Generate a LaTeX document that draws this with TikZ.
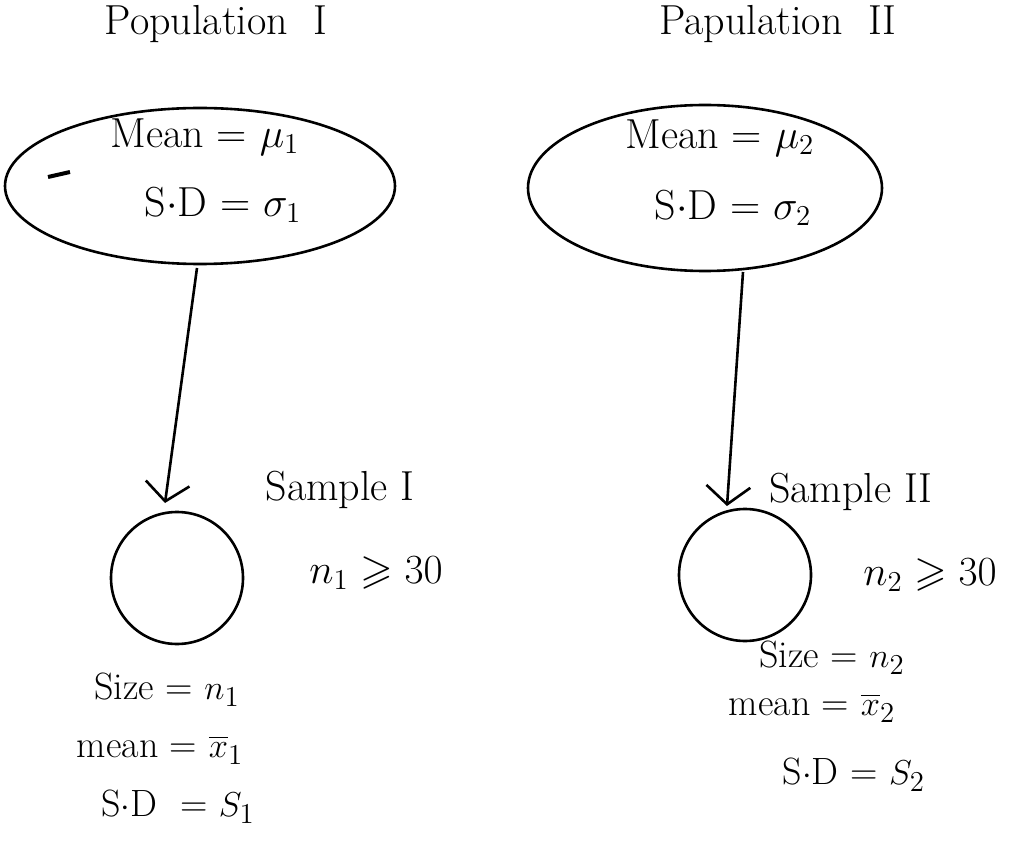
\documentclass[tikz,border=0pt]{standalone}
\usepackage{amssymb}
\usetikzlibrary{shapes.geometric,arrows.meta,calc}
\begin{document}
\begin{tikzpicture}[x=0.5pt,y=-0.5pt,
  pen/.style={line width=1.3pt,black},
  pop/.style={pen,draw,ellipse,inner sep=0pt},
  samp/.style={pen,draw,circle,inner sep=0pt},
  lbl/.style={font=\fontsize{21}{25}\selectfont,inner sep=0pt},
  small/.style={font=\fontsize{19}{22}\selectfont,inner sep=0pt},
  conn/.style={pen,-{Straight Barb[length=9pt,width=22pt,line width=1.3pt]}}]
\useasboundingbox (0,0) rectangle (1032,844);
% titles
\node[lbl] (t1) at (216,24) {Population\ \ I};
\node[lbl] (t2) at (778,24) {Papulation\ \ II};
% populations
\node[pop,minimum width=195pt,minimum height=78pt] (p1) at (200,186) {};
\node[pop,minimum width=177pt,minimum height=83pt] (p2) at (705,188) {};
\node[lbl] (m1) at (205,137) {Mean = $\mu_1$};
\node[lbl] (s1) at (223,205) {S$\cdot$D = $\sigma_1$};
\node[lbl] (m2) at (720,138) {Mean = $\mu_2$};
\node[lbl] (s2) at (733,208) {S$\cdot$D = $\sigma_2$};
\draw[pen,line width=2pt] (48,177) -- (70,172);
% samples
\node[samp,minimum size=66pt] (c1) at (177,578) {};
\node[samp,minimum size=66pt] (c2) at (745,575) {};
\coordinate (a1) at (197,268);
\coordinate (a2) at (743,272);
\coordinate (b1) at (165,503);
\coordinate (b2) at (727,506);
\draw[conn] (a1) -- (b1);
\draw[conn] (a2) -- (b2);
\node[lbl] (sa1) at (340,490) {Sample\ I};
\node[lbl] (sa2) at (851,492) {Sample\ II};
\node[lbl] (n1) at (376,573) {$n_1 \geqslant 30$};
\node[lbl] (n2) at (930,575) {$n_2 \geqslant 30$};
% sample stats
\node[small] (z1) at (167,690) {Size = $n_1$};
\node[small] (x1) at (160,750) {mean = $\overline{x}_1$};
\node[small] (d1) at (178,807) {S$\cdot$D\ \ = $S_1$};
\node[small] (z2) at (832,658) {Size = $n_2$};
\node[small] (x2) at (812,708) {mean = $\overline{x}_2$};
\node[small] (d2) at (854,775) {S$\cdot$D\ = $S_2$};
\end{tikzpicture}
\end{document}
